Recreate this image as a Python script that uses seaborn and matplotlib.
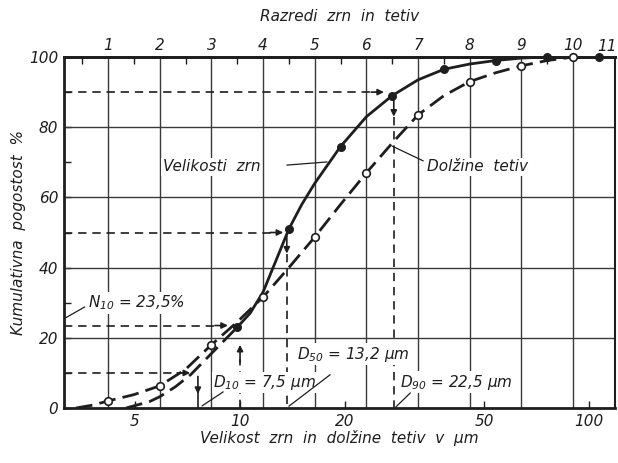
import numpy as np
import pandas as pd
import seaborn as sns
import matplotlib
matplotlib.use("Agg")
import matplotlib.pyplot as plt

# ---------------- data (x in "class" units of the top axis) ----------------
grain_mark_class = [3.5, 4.5, 5.5, 6.5, 7.5, 8.5, 9.5, 10.5]
grain_mark_pct = [23, 51, 74.5, 89, 96.5, 99, 100, 100]

grain_lo_class = [1.35, 1.8, 2.0, 2.3, 2.6, 3.0, 3.5]
grain_lo_pct = [0, 1.8, 3.2, 6.0, 9.5, 15.5, 23]
grain_hi_class = [3.5, 3.75, 4.0, 4.25, 4.5, 4.75, 5.0, 5.5, 6.0, 6.5, 7.0, 7.5, 8.0, 8.5, 9.0, 9.5, 10.5, 10.81]
grain_hi_pct = [23, 27, 33, 42, 51, 58, 64, 74.5, 83, 89, 93.5, 96.5, 98, 99, 99.7, 100, 100, 100]

chord_mark_class = [1, 2, 3, 4, 5, 6, 7, 8, 9, 10]
chord_mark_pct = [2, 6.3, 18, 31.6, 48.7, 67, 83.5, 93, 97.5, 100]
chord_line_class = [0.38, 0.7, 1.0, 1.5, 2.0, 2.5, 3.0, 3.5, 4.0, 4.5, 5.0, 5.5, 6.0, 6.5,
                    7.0, 7.5, 8.0, 8.5, 9.0, 9.5, 10.0, 10.81]
chord_line_pct = [0, 0.8, 2, 3.8, 6.3, 11, 18, 24.5, 31.6, 40, 48.7, 58, 67, 75.5,
                  83.5, 89, 93, 95.5, 97.5, 99, 100, 100]

size_ticks_um = [5, 10, 20, 50, 100]
size_tick_labels = ["5", "10", "20", "50", "100"]
class_ticks = [1, 2, 3, 4, 5, 6, 7, 8, 9, 10]
class_labels = ["1", "2", "3", "4", "5", "6", "7", "8", "9", "10"]
y_ticks = [0, 20, 40, 60, 80, 100]


def size_to_class(s):
    # bottom log scale (um) expressed in class units of the top axis
    return 3.555 + 6.754 * np.log10(np.asarray(s, dtype=float) / 10.0)


INK = "#1e1e1e"
GRID = "#3a3a3a"

sns.set_theme(style="white")
plt.rcParams["font.family"] = ["DejaVu Sans"]
plt.rcParams["font.style"] = "italic"
plt.rcParams["mathtext.fontset"] = "custom"
plt.rcParams["mathtext.rm"] = "DejaVu Sans:italic"
plt.rcParams["mathtext.it"] = "DejaVu Sans:italic"
plt.rcParams["text.color"] = INK

fig = plt.figure(figsize=(6.18, 4.63), dpi=100)
ax = fig.add_axes([64 / 618, 55 / 463, (615 - 64) / 618, (408 - 57) / 463])
ax.set_facecolor("white")
XL, XR = 0.149, 10.81
ax.set_xlim(XL, XR)
ax.set_ylim(0, 100)

# grid
for c in class_ticks:
    ax.axvline(c, color=GRID, lw=1.0, zorder=1)
for yv in [20, 40, 60, 80]:
    ax.axhline(yv, color=GRID, lw=1.0, zorder=1)

# curves
dash_long = (0, (6, 2.6))
sns.lineplot(x=chord_line_class, y=chord_line_pct, ax=ax, color=INK, lw=2.0,
             linestyle=dash_long, sort=False, estimator=None, zorder=4)
sns.lineplot(x=grain_lo_class, y=grain_lo_pct, ax=ax, color=INK, lw=2.0,
             linestyle=dash_long, sort=False, estimator=None, zorder=4)
sns.lineplot(x=grain_hi_class, y=grain_hi_pct, ax=ax, color=INK, lw=2.0,
             sort=False, estimator=None, zorder=4)
sns.scatterplot(x=chord_mark_class, y=chord_mark_pct, ax=ax, s=30, color="white",
                edgecolor=INK, linewidth=1.2, zorder=6, clip_on=False)
sns.scatterplot(x=grain_mark_class, y=grain_mark_pct, ax=ax, s=30, color=INK,
                edgecolor=INK, linewidth=1.0, zorder=6, clip_on=False)

# dashed guide lines with arrows
def hguide(y, x1):
    ax.plot([XL, x1 - 0.1], [y, y], color=INK, lw=1.2, ls=(0, (5, 3.5)), zorder=3)
    ax.annotate("", xy=(x1, y), xytext=(x1 - 0.25, y),
                arrowprops=dict(arrowstyle="-|>", color=INK, lw=1.2,
                                mutation_scale=9, shrinkA=0, shrinkB=0), zorder=7)


def varrow(x, y_from, y_to):
    ax.annotate("", xy=(x, y_to), xytext=(x, y_from),
                arrowprops=dict(arrowstyle="-|>", color=INK, lw=1.2,
                                mutation_scale=9, shrinkA=0, shrinkB=0), zorder=7)


hguide(90, 6.34)
hguide(50, 4.39)
hguide(23.5, 3.32)
hguide(10, 2.59)

# D90
varrow(6.53, 88, 83)
ax.plot([6.53, 6.53], [83, 0], color=INK, lw=1.2, ls=(0, (5, 3.5)), zorder=3)
# D50
varrow(4.46, 49, 44)
ax.plot([4.46, 4.46], [44, 0], color=INK, lw=1.2, ls=(0, (5, 3.5)), zorder=3)
# N10 at 10 um
x10 = float(size_to_class(10))
ax.plot([x10, x10], [0, 14], color=INK, lw=1.2, ls=(0, (5, 3.5)), zorder=3)
varrow(x10, 13, 18)
# D10
varrow(2.74, 9, 4)
ax.plot([2.74, 2.74], [4.5, 0], color=INK, lw=1.2, zorder=3)

# annotations
box = dict(facecolor="white", edgecolor="none", pad=1.0)
ax.text(0.61, 29.9, r"$N_{10}$ = 23,5%", fontsize=11, va="center", ha="left", bbox=box, zorder=8)
ax.plot([0.17, 0.55], [25.6, 28.8], color=INK, lw=0.9, zorder=8)

ax.text(2.06, 68.7, "Velikosti  zrn", fontsize=11, va="center", ha="left", bbox=box, zorder=8)
ax.plot([4.46, 5.24], [69.2, 70.1], color=INK, lw=0.9, zorder=8)

ax.text(7.17, 68.7, "Dolžine  tetiv", fontsize=11, va="center", ha="left", bbox=box, zorder=8)
ax.plot([6.5, 7.1], [74.6, 70.4], color=INK, lw=0.9, zorder=8)

ax.text(3.03, 7.3, r"$D_{10}$ = 7,5 µm", fontsize=11, va="center", ha="left", bbox=box, zorder=8)
ax.plot([2.82, 3.23], [0.6, 4.6], color=INK, lw=0.9, zorder=8)

ax.text(4.66, 15.3, r"$D_{50}$ = 13,2 µm", fontsize=11, va="center", ha="left", bbox=box, zorder=8)
ax.plot([4.5, 5.3], [0.5, 9.5], color=INK, lw=0.9, zorder=8)

ax.text(6.65, 7.4, r"$D_{90}$ = 22,5 µm", fontsize=11, va="center", ha="left", bbox=box, zorder=8)
ax.plot([6.57, 6.85], [0.3, 4.3], color=INK, lw=0.9, zorder=8)

# bottom axis (um, log positions)
ax.set_xticks([float(v) for v in size_to_class(size_ticks_um)])
ax.set_xticklabels(size_tick_labels, fontsize=11)
ax.set_yticks(y_ticks)
ax.set_yticklabels([str(v) for v in y_ticks], fontsize=11)
ax.set_yticks(range(10, 100, 20), minor=True)
ax.tick_params(axis="x", which="major", direction="in", length=5, width=1.0, color=INK,
               pad=4, labelcolor=INK, bottom=True)
ax.tick_params(axis="y", which="both", direction="in", length=5, width=1.0, color=INK,
               pad=4, labelcolor=INK, left=True)
ax.set_xlabel("Velikost  zrn  in  dolžine  tetiv  v  µm", fontsize=11, color=INK, labelpad=1)
ax.set_ylabel("Kumulativna  pogostost  %", fontsize=11, color=INK, labelpad=2)

# top axis (classes)
top = ax.secondary_xaxis("top")
top.set_xticks(class_ticks)
top.set_xticklabels(class_labels, fontsize=11)
top.set_xticks([k + 0.5 for k in range(0, 10)], minor=True)
top.tick_params(axis="x", which="major", direction="in", length=0, pad=3, labelcolor=INK)
top.tick_params(axis="x", which="minor", direction="in", length=5, width=1.0, color=INK)
top.spines["top"].set_linewidth(2.0)
top.spines["top"].set_color(INK)
top.set_xlabel("Razredi  zrn  in  tetiv", fontsize=11, color=INK, labelpad=12)
# class 11 lies just beyond the right edge; keep its label inside the figure
fig.text(617 / 618, 1 - 51 / 463, "11", ha="right", va="baseline", fontsize=11, color=INK)

for side in ["left", "bottom", "top"]:
    ax.spines[side].set_linewidth(2.0)
    ax.spines[side].set_color(INK)
ax.spines["right"].set_linewidth(1.5)
ax.spines["right"].set_color(INK)

fig.savefig("out.png", dpi=100, facecolor="white")
